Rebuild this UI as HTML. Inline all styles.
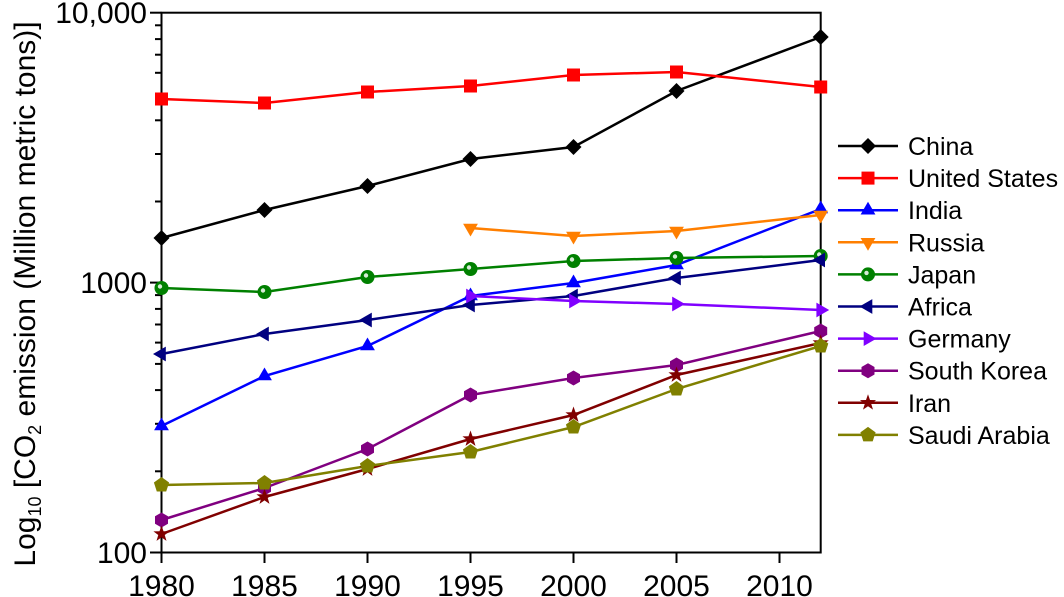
<!DOCTYPE html>
<html><head><meta charset="utf-8"><style>
html,body{margin:0;padding:0;background:#fff;}
svg{display:block;font-family:"Liberation Sans",Arial,sans-serif;}
</style></head><body>
<svg width="1064" height="597" viewBox="0 0 1064 597" xmlns="http://www.w3.org/2000/svg">
<defs>
<polygon id="dia" points="8,0 0,8 -8,0 0,-8"/>
<rect id="sq" x="-6.5" y="-6.5" width="13" height="13"/>
<polygon id="tu" points="0,-8.5 7.4,4.3 -7.4,4.3"/>
<polygon id="td" points="0,8.5 7.4,-4.3 -7.4,-4.3"/>
<polygon id="tl" points="-8.5,0 4.3,-7.4 4.3,7.4"/>
<polygon id="tr" points="8.5,0 -4.3,-7.4 -4.3,7.4"/>
<polygon id="hx" points="0,7.5 -6.5,3.75 -6.5,-3.75 0,-7.5 6.5,-3.75 6.5,3.75"/>
<polygon id="pt" points="0,-8 7.6,-2.47 4.7,6.47 -4.7,6.47 -7.6,-2.47"/>
<polygon id="st" points="0,-8.5 2,-2.75 8.08,-2.63 3.23,1.05 5,6.88 0,3.4 -5,6.88 -3.23,1.05 -8.08,-2.63 -2,-2.75"/>
<g id="ci"><circle r="7"/><circle cx="-1.5" cy="-1.5" r="2.2" fill="#d8ecd8"/></g>
</defs>
<rect x="161.5" y="12.7" width="659.2" height="539.8" fill="none" stroke="#000" stroke-width="2"/>
<g stroke="#000" stroke-width="2">
<line x1="150" x2="161.5" y1="12.7" y2="12.7"/>
<line x1="150" x2="161.5" y1="282.6" y2="282.6"/>
<line x1="150" x2="161.5" y1="552.5" y2="552.5"/>
<line x1="155" x2="161.5" y1="471.3" y2="471.3"/>
<line x1="155" x2="161.5" y1="423.8" y2="423.8"/>
<line x1="155" x2="161.5" y1="390.1" y2="390.1"/>
<line x1="155" x2="161.5" y1="363.9" y2="363.9"/>
<line x1="155" x2="161.5" y1="342.6" y2="342.6"/>
<line x1="155" x2="161.5" y1="324.5" y2="324.5"/>
<line x1="155" x2="161.5" y1="308.9" y2="308.9"/>
<line x1="155" x2="161.5" y1="295.1" y2="295.1"/>
<line x1="155" x2="161.5" y1="201.5" y2="201.5"/>
<line x1="155" x2="161.5" y1="154.0" y2="154.0"/>
<line x1="155" x2="161.5" y1="120.3" y2="120.3"/>
<line x1="155" x2="161.5" y1="94.1" y2="94.1"/>
<line x1="155" x2="161.5" y1="72.8" y2="72.8"/>
<line x1="155" x2="161.5" y1="54.7" y2="54.7"/>
<line x1="155" x2="161.5" y1="39.1" y2="39.1"/>
<line x1="155" x2="161.5" y1="25.3" y2="25.3"/>
<line x1="161.5" x2="161.5" y1="552.5" y2="563"/>
<line x1="264.5" x2="264.5" y1="552.5" y2="563"/>
<line x1="367.5" x2="367.5" y1="552.5" y2="563"/>
<line x1="470.5" x2="470.5" y1="552.5" y2="563"/>
<line x1="573.5" x2="573.5" y1="552.5" y2="563"/>
<line x1="676.5" x2="676.5" y1="552.5" y2="563"/>
<line x1="779.5" x2="779.5" y1="552.5" y2="563"/>
</g>
<g font-size="30" text-anchor="end" fill="#000">
<text x="147" y="23">10,000</text>
<text x="147" y="293">1000</text>
<text x="147" y="563">100</text>
</g>
<g font-size="30" text-anchor="middle" fill="#000">
<text x="161.5" y="596">1980</text>
<text x="264.5" y="596">1985</text>
<text x="367.5" y="596">1990</text>
<text x="470.5" y="596">1995</text>
<text x="573.5" y="596">2000</text>
<text x="676.5" y="596">2005</text>
<text x="779.5" y="596">2010</text>
</g>
<text transform="translate(35,294) rotate(-90)" font-size="30" text-anchor="middle">Log<tspan font-size="18" dy="6">10</tspan><tspan dy="-6"> [CO</tspan><tspan font-size="18" dy="6">2</tspan><tspan dy="-6"> emission (Million metric tons)]</tspan></text>

<g fill="none" stroke-width="2.5">
<polyline stroke="#000" points="161.5,238 264.5,210 367.5,186 470.5,159 573.5,147 676.5,91 820.7,37"/>
<polyline stroke="#f00" points="161.5,99 264.5,103 367.5,92 470.5,86 573.5,75 676.5,72 820.7,87"/>
<polyline stroke="#00f" points="161.5,426 264.5,376 367.5,346 470.5,296 573.5,283 676.5,265 820.7,209"/>
<polyline stroke="#ff7f00" points="470.5,228 573.5,236 676.5,231 820.7,215"/>
<polyline stroke="#008000" points="161.5,288 264.5,292 367.5,277 470.5,269 573.5,261 676.5,258 820.7,256"/>
<polyline stroke="#000080" points="161.5,354 264.5,334 367.5,320 470.5,305 573.5,296 676.5,278 820.7,260"/>
<polyline stroke="#8000ff" points="470.5,296 573.5,301 676.5,304 820.7,310"/>
<polyline stroke="#800080" points="161.5,520 264.5,488 367.5,449 470.5,395 573.5,378 676.5,365 820.7,331"/>
<polyline stroke="#800000" points="161.5,534 264.5,497 367.5,469 470.5,439 573.5,415 676.5,375 820.7,343"/>
<polyline stroke="#808000" points="161.5,485 264.5,483 367.5,466 470.5,452 573.5,427 676.5,389 820.7,346"/>
</g>
<g fill="#000"><use href="#dia" x="161.5" y="238"/><use href="#dia" x="264.5" y="210"/><use href="#dia" x="367.5" y="186"/><use href="#dia" x="470.5" y="159"/><use href="#dia" x="573.5" y="147"/><use href="#dia" x="676.5" y="91"/><use href="#dia" x="820.7" y="37"/></g>
<g fill="#f00"><use href="#sq" x="161.5" y="99"/><use href="#sq" x="264.5" y="103"/><use href="#sq" x="367.5" y="92"/><use href="#sq" x="470.5" y="86"/><use href="#sq" x="573.5" y="75"/><use href="#sq" x="676.5" y="72"/><use href="#sq" x="820.7" y="87"/></g>
<g fill="#00f"><use href="#tu" x="161.5" y="426"/><use href="#tu" x="264.5" y="376"/><use href="#tu" x="367.5" y="346"/><use href="#tu" x="470.5" y="296"/><use href="#tu" x="573.5" y="283"/><use href="#tu" x="676.5" y="265"/><use href="#tu" x="820.7" y="209"/></g>
<g fill="#ff7f00"><use href="#td" x="470.5" y="228"/><use href="#td" x="573.5" y="236"/><use href="#td" x="676.5" y="231"/><use href="#td" x="820.7" y="215"/></g>
<g fill="#008000"><use href="#ci" x="161.5" y="288"/><use href="#ci" x="264.5" y="292"/><use href="#ci" x="367.5" y="277"/><use href="#ci" x="470.5" y="269"/><use href="#ci" x="573.5" y="261"/><use href="#ci" x="676.5" y="258"/><use href="#ci" x="820.7" y="256"/></g>
<g fill="#000080"><use href="#tl" x="161.5" y="354"/><use href="#tl" x="264.5" y="334"/><use href="#tl" x="367.5" y="320"/><use href="#tl" x="470.5" y="305"/><use href="#tl" x="573.5" y="296"/><use href="#tl" x="676.5" y="278"/><use href="#tl" x="820.7" y="260"/></g>
<g fill="#8000ff"><use href="#tr" x="470.5" y="296"/><use href="#tr" x="573.5" y="301"/><use href="#tr" x="676.5" y="304"/><use href="#tr" x="820.7" y="310"/></g>
<g fill="#800080"><use href="#hx" x="161.5" y="520"/><use href="#hx" x="264.5" y="488"/><use href="#hx" x="367.5" y="449"/><use href="#hx" x="470.5" y="395"/><use href="#hx" x="573.5" y="378"/><use href="#hx" x="676.5" y="365"/><use href="#hx" x="820.7" y="331"/></g>
<g fill="#800000"><use href="#st" x="161.5" y="534"/><use href="#st" x="264.5" y="497"/><use href="#st" x="367.5" y="469"/><use href="#st" x="470.5" y="439"/><use href="#st" x="573.5" y="415"/><use href="#st" x="676.5" y="375"/><use href="#st" x="820.7" y="343"/></g>
<g fill="#808000"><use href="#pt" x="161.5" y="485"/><use href="#pt" x="264.5" y="483"/><use href="#pt" x="367.5" y="466"/><use href="#pt" x="470.5" y="452"/><use href="#pt" x="573.5" y="427"/><use href="#pt" x="676.5" y="389"/><use href="#pt" x="820.7" y="346"/></g>

<g stroke-width="2.5">
<line x1="838" x2="898" y1="146" y2="146" stroke="#000"/>
<line x1="838" x2="898" y1="178.1" y2="178.1" stroke="#f00"/>
<line x1="838" x2="898" y1="210.2" y2="210.2" stroke="#00f"/>
<line x1="838" x2="898" y1="242.3" y2="242.3" stroke="#ff7f00"/>
<line x1="838" x2="898" y1="274.4" y2="274.4" stroke="#008000"/>
<line x1="838" x2="898" y1="306.5" y2="306.5" stroke="#000080"/>
<line x1="838" x2="898" y1="338.6" y2="338.6" stroke="#8000ff"/>
<line x1="838" x2="898" y1="370.7" y2="370.7" stroke="#800080"/>
<line x1="838" x2="898" y1="402.8" y2="402.8" stroke="#800000"/>
<line x1="838" x2="898" y1="434.9" y2="434.9" stroke="#808000"/>
</g>
<use href="#dia" x="868" y="146" fill="#000"/>
<use href="#sq" x="868" y="178.1" fill="#f00"/>
<use href="#tu" x="868" y="210.2" fill="#00f"/>
<use href="#td" x="868" y="242.3" fill="#ff7f00"/>
<use href="#ci" x="868" y="274.4" fill="#008000"/>
<use href="#tl" x="868" y="306.5" fill="#000080"/>
<use href="#tr" x="868" y="338.6" fill="#8000ff"/>
<use href="#hx" x="868" y="370.7" fill="#800080"/>
<use href="#st" x="868" y="402.8" fill="#800000"/>
<use href="#pt" x="868" y="434.9" fill="#808000"/>
<g font-size="25" fill="#000">
<text x="908" y="155">China</text>
<text x="908" y="187.1">United States</text>
<text x="908" y="219.2">India</text>
<text x="908" y="251.3">Russia</text>
<text x="908" y="283.4">Japan</text>
<text x="908" y="315.5">Africa</text>
<text x="908" y="347.6">Germany</text>
<text x="908" y="379.7">South Korea</text>
<text x="908" y="411.8">Iran</text>
<text x="908" y="443.9">Saudi Arabia</text>
</g>
</svg>
</body></html>
